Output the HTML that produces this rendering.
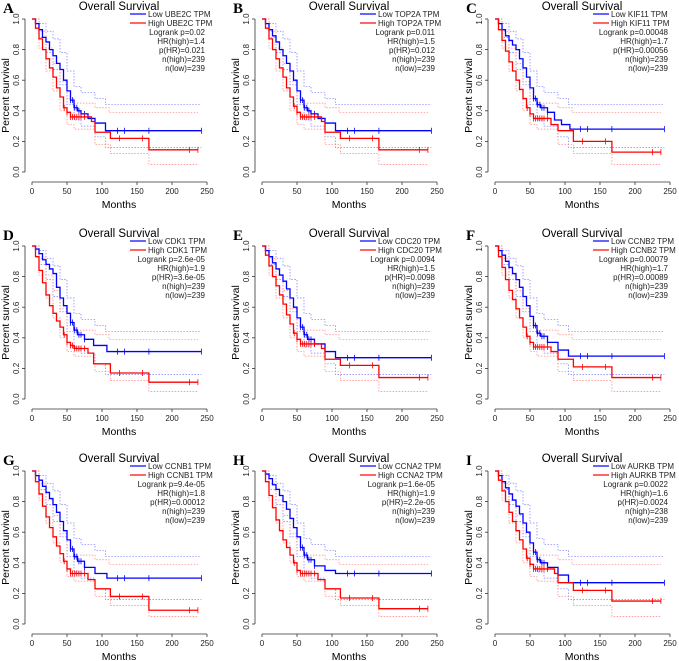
<!DOCTYPE html>
<html><head><meta charset="utf-8"><style>
body{margin:0;background:#fff;}
svg{display:block;font-family:"Liberation Sans",sans-serif;}
</style></head><body>
<svg id="c" width="679" height="661"></svg>
<script>
const panelLetters=["A","B","C","D","E","F","G","H","I"];
const genes=["UBE2C","TOP2A","KIF11","CDK1","CDC20","CCNB2","CCNB1","CCNA2","AURKB"];
const logrankP=["0.02","0.011","0.00048","2.6e-05","0.0094","0.00079","9.4e-05","1.6e-05","0.0022"];
const hrHigh=["1.4","1.5","1.7","1.9","1.5","1.7","1.8","1.9","1.6"];
const pHR=["0.021","0.012","0.00056","3.6e-05","0.0098","0.00089","0.00012","2.2e-05","0.0024"];
const nHigh=["239","239","239","239","239","239","239","239","238"];
const nLow=["239","239","239","239","239","239","239","239","239"];
const xTicks=[0,50,100,150,200,250];
const yTicks=[0,0.2,0.4,0.6,0.8,1.0];
const yTickLabels=["0.0","0.2","0.4","0.6","0.8","1.0"];
// survival step curves [months, survival]
const lowCurves=[
 [[0,1],[5,.97],[10,.93],[15,.88],[20,.85],[25,.8],[30,.76],[35,.71],[40,.67],[45,.6],[50,.53],[55,.47],[60,.42],[65,.4],[70,.38],[80,.35],[90,.32],[105,.27],[242,.27]],
 [[0,1],[5,.97],[10,.93],[15,.89],[20,.85],[25,.8],[30,.76],[35,.71],[40,.66],[45,.6],[50,.53],[55,.47],[60,.42],[65,.4],[70,.38],[80,.35],[90,.32],[105,.27],[242,.27]],
 [[0,1],[5,.97],[10,.93],[15,.89],[20,.86],[25,.83],[30,.8],[35,.74],[40,.68],[45,.62],[50,.55],[55,.48],[60,.44],[65,.42],[75,.39],[85,.34],[95,.31],[107,.28],[242,.28]],
 [[0,1],[5,.98],[10,.95],[15,.91],[20,.88],[25,.85],[30,.82],[35,.73],[40,.66],[45,.61],[50,.56],[55,.5],[60,.45],[65,.42],[75,.39],[88,.35],[107,.31],[242,.31]],
 [[0,1],[5,.97],[10,.93],[15,.89],[20,.85],[25,.81],[30,.77],[35,.72],[40,.66],[45,.6],[50,.53],[55,.47],[60,.42],[65,.39],[75,.36],[90,.31],[105,.27],[242,.27]],
 [[0,1],[5,.97],[10,.94],[15,.9],[20,.86],[25,.82],[30,.78],[35,.73],[40,.67],[45,.61],[50,.54],[55,.48],[60,.43],[65,.41],[75,.37],[90,.32],[105,.28],[242,.28]],
 [[0,1],[5,.97],[10,.94],[15,.9],[20,.86],[25,.82],[30,.78],[35,.73],[40,.67],[45,.61],[50,.55],[55,.49],[60,.44],[65,.41],[75,.37],[90,.33],[107,.3],[242,.3]],
 [[0,1],[5,.98],[10,.95],[15,.91],[20,.88],[25,.84],[30,.8],[35,.75],[40,.69],[45,.63],[50,.57],[55,.5],[60,.45],[65,.42],[75,.38],[90,.35],[105,.33],[242,.33]],
 [[0,1],[5,.97],[10,.93],[15,.89],[20,.85],[25,.81],[30,.77],[35,.72],[40,.66],[45,.6],[50,.53],[55,.47],[60,.42],[65,.4],[75,.37],[90,.32],[105,.27],[242,.27]]
];
const highCurves=[
 [[0,1],[5,.94],[10,.87],[15,.8],[20,.74],[25,.68],[30,.62],[35,.55],[40,.49],[45,.42],[50,.39],[55,.36],[85,.33],[90,.26],[112,.22],[167,.145],[237,.145]],
 [[0,1],[5,.94],[10,.87],[15,.8],[20,.74],[25,.68],[30,.62],[35,.55],[40,.49],[45,.43],[50,.39],[55,.36],[85,.33],[90,.26],[112,.22],[167,.145],[237,.145]],
 [[0,1],[5,.93],[10,.86],[15,.79],[20,.72],[25,.66],[30,.6],[35,.54],[40,.48],[45,.42],[50,.38],[55,.35],[80,.31],[90,.27],[112,.2],[167,.13],[237,.13]],
 [[0,1],[5,.93],[10,.84],[15,.76],[20,.68],[25,.61],[30,.56],[35,.51],[40,.47],[45,.42],[50,.37],[55,.35],[60,.33],[80,.3],[88,.23],[112,.17],[167,.11],[237,.11]],
 [[0,1],[5,.94],[10,.87],[15,.8],[20,.74],[25,.68],[30,.62],[35,.55],[40,.49],[45,.43],[50,.39],[55,.36],[85,.33],[90,.26],[112,.22],[167,.14],[237,.14]],
 [[0,1],[5,.93],[10,.86],[15,.78],[20,.71],[25,.65],[30,.59],[35,.53],[40,.47],[45,.41],[50,.37],[55,.34],[80,.31],[90,.26],[112,.21],[167,.14],[237,.14]],
 [[0,1],[5,.93],[10,.85],[15,.77],[20,.7],[25,.63],[30,.57],[35,.51],[40,.46],[45,.41],[50,.36],[55,.33],[80,.29],[90,.23],[112,.18],[167,.09],[237,.09]],
 [[0,1],[5,.93],[10,.84],[15,.76],[20,.68],[25,.61],[30,.55],[35,.5],[40,.45],[45,.4],[50,.35],[55,.33],[80,.29],[90,.23],[112,.17],[167,.1],[237,.1]],
 [[0,1],[5,.94],[10,.87],[15,.8],[20,.73],[25,.67],[30,.61],[35,.55],[40,.49],[45,.43],[50,.39],[55,.36],[85,.33],[90,.27],[112,.22],[167,.15],[237,.15]]
];
// confidence bands (shared shape) [months, survival]
const lowUpper=[[0,1],[10,.97],[20,.92],[30,.87],[40,.78],[50,.66],[60,.56],[70,.52],[90,.48],[105,.44],[242,.44]];
const lowLower=[[0,1],[10,.88],[20,.78],[30,.67],[40,.57],[50,.44],[60,.34],[70,.3],[90,.23],[105,.16],[242,.16]];
const highUpper=[[0,1],[10,.92],[20,.81],[30,.71],[40,.59],[50,.48],[60,.45],[90,.42],[110,.39],[237,.39]];
const highLower=[[0,1],[10,.81],[20,.66],[30,.53],[40,.4],[50,.31],[60,.28],[90,.18],[112,.12],[167,.05],[237,.05]];
const lowCensor=[55,58,61,64,67,70,75,122,132,167,242];
const highCensor=[46,50,55,58,61,64,67,70,75,125,158,225,237];

const NS="http://www.w3.org/2000/svg";
const svg=document.getElementById("c");
function mk(tag,attrs,parent){const e=document.createElementNS(NS,tag);for(const k in attrs)e.setAttribute(k,attrs[k]);(parent||svg).appendChild(e);return e;}
const colX=[32,262,495], rowY=[19,246,471], PW=175, PH=153;
function stepPath(pts,sx,sy){let d="M"+sx(pts[0][0])+","+sy(pts[0][1]);for(let i=1;i<pts.length;i++){d+=" H"+sx(pts[i][0])+" V"+sy(pts[i][1]);}return d;}
function valAt(pts,t){let v=pts[0][1];for(const p of pts){if(p[0]<=t)v=p[1];}return v;}
for(let p=0;p<9;p++){
 const x0=colX[p%3], y1=rowY[Math.floor(p/3)], y0=y1+PH;
 const sx=t=>x0+t/250*PW, sy=s=>y0-s*PH;
 const g=mk("g",{});
 
 
 let e=mk("text",{x:x0-29,y:y1-6,"font-size":15,"font-weight":"bold","font-family":"Liberation Serif, serif"},g);e.textContent=panelLetters[p];
 
 e=mk("text",{x:x0+87,y:y1-9,"font-size":11.5,"text-anchor":"middle"},g);e.textContent="Overall Survival";
 
 const ax=x0-7, ay=y0+10;
 e=mk("path",{d:`M${sx(0)},${ay} H${sx(250)}`,stroke:"#333","stroke-width":0.8,fill:"none"},g);
 
 xTicks.forEach(t=>{mk("path",{d:`M${sx(t)},${ay} v3`,stroke:"#333","stroke-width":0.8},g);
  const l=mk("text",{x:sx(t),y:ay+12,"font-size":8,"text-anchor":"middle",fill:"#222"},g);l.textContent=t;
  });
 e=mk("text",{x:x0+87,y:ay+26,"font-size":10.5,"text-anchor":"middle"},g);e.textContent="Months";
 
 e=mk("path",{d:`M${ax},${sy(0)} V${sy(1)}`,stroke:"#333","stroke-width":0.8,fill:"none"},g);
 
 yTicks.forEach((t,i)=>{mk("path",{d:`M${ax},${sy(t)} h-3`,stroke:"#333","stroke-width":0.8},g);
  const l=mk("text",{x:0,y:0,"font-size":8,"text-anchor":"middle",fill:"#222",transform:`translate(${ax-6},${sy(t)}) rotate(-90)`},g);l.textContent=yTickLabels[i];
  });
 e=mk("text",{x:0,y:0,"font-size":10.5,"text-anchor":"middle",transform:`translate(${ax-16},${sy(0.5)}) rotate(-90)`},g);e.textContent="Percent survival";
 
 [[lowUpper,"#7b7bff"],[lowLower,"#7b7bff"],[highUpper,"#ff8080"],[highLower,"#ff8080"]].forEach(([pts,c])=>{
  const l=mk("path",{d:stepPath(pts,sx,sy),stroke:c,"stroke-width":0.7,"stroke-dasharray":"1.5,1.5",fill:"none"},g);
  });
 [[lowCurves[p],"#0000ff",lowCensor,"low-survival-curve"],[highCurves[p],"#ff0000",highCensor,"high-survival-curve"]].forEach(([pts,c,cen,nm])=>{
  const l=mk("path",{d:stepPath(pts,sx,sy),stroke:c,"stroke-width":1.3,fill:"none"},g);
  
  cen.forEach(t=>{if(t<=pts[pts.length-1][0]){const m=mk("path",{d:`M${sx(t)},${sy(valAt(pts,t))-3} v6`,stroke:c,"stroke-width":0.8},g);
   }});
 });
 const lx=x0+98, rx=x0+173;
 [["Low "+genes[p]+" TPM","#0000ff"],["High "+genes[p]+" TPM","#ff0000"]].forEach(([txt,c],i)=>{
  const yy=y1-5+i*9;
  mk("path",{d:`M${lx},${yy} h16`,stroke:c,"stroke-width":1.2},g);
  const l=mk("text",{x:lx+18,y:yy+3,"font-size":8,fill:"#222"},g);l.textContent=txt;
  });
 ["Logrank p="+logrankP[p],"HR(high)="+hrHigh[p],"p(HR)="+pHR[p],"n(high)="+nHigh[p],"n(low)="+nLow[p]].forEach((txt,i)=>{
  const l=mk("text",{x:rx,y:y1+16+i*9,"font-size":8,"text-anchor":"end",fill:"#222"},g);l.textContent=txt;
  });
}
</script>
</body></html>
